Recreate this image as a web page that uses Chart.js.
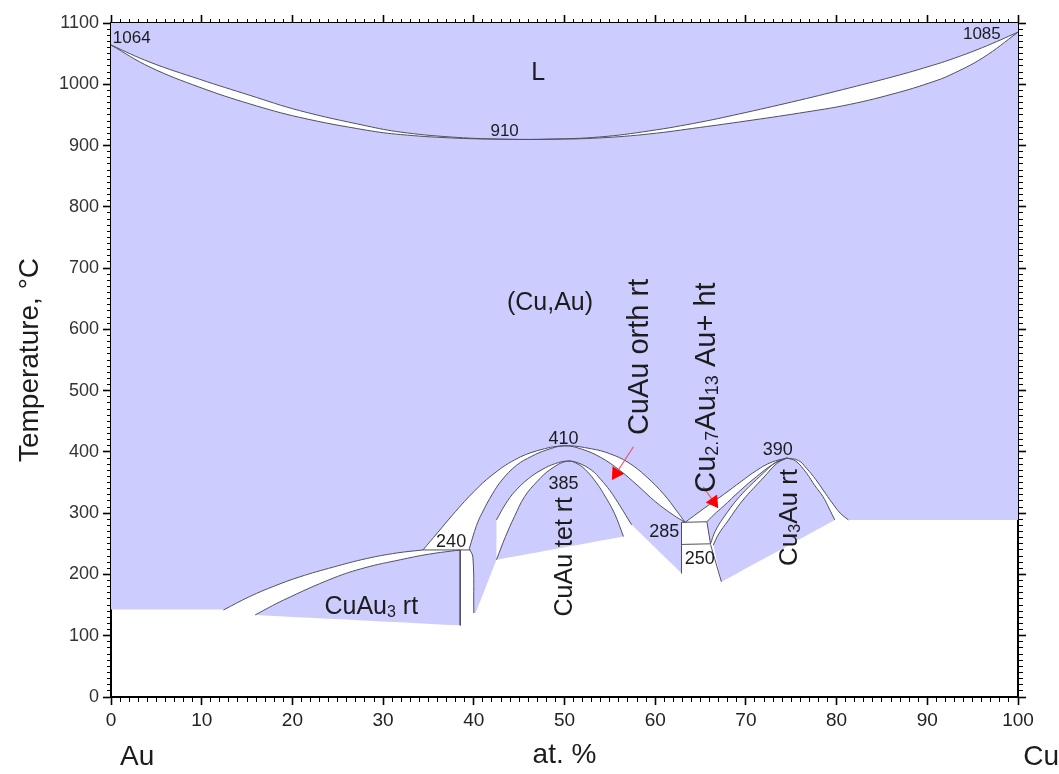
<!DOCTYPE html>
<html><head><meta charset="utf-8">
<script src="https://cdn.jsdelivr.net/npm/chart.js@4"></script>
<style>html,body{margin:0;padding:0;background:#fff}</style>
</head><body>
<canvas id="c" width="1059" height="774" style="display:block;width:1059px;height:774px"></canvas>
<script>
// ---------------- data (x = at.% Cu, y = temperature °C) ----------------
const xTicks = [0,10,20,30,40,50,60,70,80,90,100];
const yTicks = [0,100,200,300,400,500,600,700,800,900,1000,1100];

const liquidus = [[0,1064],[4.3,1036],[9.8,1008],[15.3,982],[20.8,957],[28.2,932],[31.9,922],[37.4,914],[42.9,910.5],[48.4,910.5],[53.9,914],[59.4,924],[64.9,938],[70,954],[75.9,974],[81.4,994],[86.9,1015],[90.6,1031],[92.5,1040],[96.1,1060],[100,1085]];
const solidus  = [[0,1064],[4.3,1028],[9.8,995],[15.3,968],[20.8,946],[28.2,925],[31.9,918],[37.4,912.5],[42.9,910.3],[48.4,910.2],[53.9,912.5],[59.4,919],[64.9,929.5],[70,940],[75.9,953],[81.4,967],[86.9,987],[90.6,1004],[92.5,1015],[96.1,1043],[100,1085]];

const cuau3BandUpper = [[12.4,142],[15.3,164],[18,181],[20.8,196],[24.5,212],[28.2,226],[31.5,235],[34.4,240]];
const cuau3Top = [[15.9,134],[19,158],[24.5,194],[28,211],[31.9,224],[35,233],[38.5,240]];
const cuau3Frame = [[38.5,240],[38.5,117],[15.9,134]];
const line240 = [[34.4,240],[39.6,240]];
const stripRight = [[39.5,242],[39.9,228],[40,137]];

const cuauOuterU = [[34.4,240],[36,268],[38,303],[40,335],[42,362],[44.5,387],[47,402],[50,410],[53,405],[55,397],[57,383],[59,360],[61,330],[62.3,305],[63.3,285]];
const cuauInnerI = [[39.5,242],[40.3,280],[40.9,300],[42,330],[43.1,354],[44.7,378],[46.4,393],[48,403],[50,410],[52,404],[54,391],[56,371],[58,346],[60,319],[62,297],[63.3,285]];
const tetA = [[42.5,289],[43.5,315],[44.5,335],[46,356],[47.5,371],[49,381],[50.3,385],[51.5,382],[53,370],[54,355],[55,337],[56.2,310],[57.4,281]];
const tetB = [[42.5,224],[43.5,262],[44.5,295],[45.6,327],[47,352],[48.5,372],[50.3,385],[51.5,380],[52.5,368],[53.5,350],[54.3,332],[55.5,300],[56.5,262]];
const tetBottom = [[56.5,262],[42.5,224]];
const orthFrame = [[63.3,285],[62.9,285],[62.9,202],[57.4,281]];
const orthWedge = [[42.5,289],[42.5,224],[40.2,137],[40,137]];

const box = [[62.9,285],[65.7,286],[66.1,250],[62.9,249],[62.9,285]];
const boxDown = [[62.9,249],[62.9,202]];
const cu3auLeftEdge = [[66.1,249],[67.3,188]];
const cu3auO1 = [[63.3,285],[65.4,308],[67.5,330],[69.5,352],[71.2,370],[72.8,383],[74.5,390]];
const cu3auO2 = [[65.7,286],[66.5,298],[67.5,311],[69.3,336],[71.2,360],[73,380],[74.5,390]];
const cu3auO3 = [[66.1,250],[66.6,270],[67.5,292],[69.3,327],[71.9,365],[73.3,383],[74.5,390]];
const cu3auO4 = [[66.4,248],[67,266],[68,287],[69.6,320],[72,359],[73.4,381],[74.5,390]];
const cu3auR1 = [[74.5,390],[75.8,386],[76.7,373],[77.7,355],[78.5,338],[79.5,317],[80.4,300],[81.3,289]];
const cu3auR2 = [[74.5,390],[75.5,385],[76.7,365],[77.6,345],[78.5,327],[79.2,307],[79.8,289]];
const cu3auFrame = [[79.8,289],[67.3,188],[66.4,248]];
const cu2Edge = [[66.1,250],[65.7,286]];

const mainLeft = [[0,1100],[0,143],[12.4,143],[12.4,142]];
const mainRight = [[81.3,289],[100,289],[100,1100],[0,1100]];

const arrow1 = [[57.6,408.5],[55.7,365]];
const arrow2 = [[65.3,343],[66.45,318.7]];

const labels = [
  {t:'L', x:47.1, y:1021, s:25},
  {t:'1064', x:0.2, y:1077, s:17, a:'left'},
  {t:'1085', x:98.1, y:1084, s:17, a:'right'},
  {t:'910', x:43.4, y:925, s:17},
  {t:'(Cu,Au)', x:48.4, y:646, s:25},
  {t:'410', x:49.9, y:424, s:18},
  {t:'385', x:49.9, y:350, s:18},
  {t:'240', x:37.5, y:256, s:18},
  {t:'285', x:61, y:271, s:18},
  {t:'250', x:64.9, y:227, s:18},
  {t:'390', x:73.5, y:405, s:18},
  {t:'CuAu_{3} rt', x:28.7, y:150, s:25},
  {t:'CuAu tet rt', x:49.8, y:229, s:25, r:true},
  {t:'CuAu orth rt', x:58.0, y:555, s:29, r:true},
  {t:'Cu_{2.7}Au_{13} Au+ ht', x:65.4, y:505, s:29, r:true},
  {t:'Cu_{3}Au rt', x:74.6, y:293, s:26, r:true}
];
const endLabels = [{t:'Au', x:0}, {t:'Cu', x:100}];

// ---------------- styling ----------------
const LAV = 'rgb(204,204,255)';
const LINE = '#50505f';
const TENSION = 0.4;
const FONT = "'Liberation Sans', Arial, Helvetica, sans-serif";
const pts = a => a.map(p => ({x:p[0], y:p[1]}));
const rev = a => a.slice().reverse();
const segsOf = a => a.slice(1).map((p, i) => [a[i], p]);   // polyline -> straight pieces
// polygon from pieces: piece ends are doubled so corners stay sharp while curves stay smooth
const pieces = (...ps) => { const o = []; for (const p of ps) { o.push(p[0], ...p, p[p.length - 1]); } return o; };
let ord = 1000;
function poly(a, color) {
  return {data: pts(a), showLine: true, fill: 'shape', backgroundColor: color, borderWidth: 0, pointRadius: 0, tension: TENSION, order: ord--};
}
function curve(a, w) {
  return {data: pts(a), showLine: true, fill: false, borderColor: LINE, borderWidth: w || 1, pointRadius: 0, tension: TENSION, order: ord--};
}
function straight(a, w) {
  return {data: pts(a), showLine: true, fill: false, borderColor: LINE, borderWidth: w || 1, pointRadius: 0, tension: 0, order: ord--};
}
function arrow(a, rot) {
  return {data: pts(a), showLine: true, fill: false, borderColor: 'rgba(235,70,90,0.85)', borderWidth: 1.2, tension: 0,
    pointRadius: [0, 8], pointStyle: 'triangle', rotation: rot, pointBackgroundColor: '#ff0000', pointBorderColor: '#ff0000', pointBorderWidth: 0, order: ord--};
}

const datasets = [
  poly(pieces(...segsOf(mainLeft), cuau3BandUpper, cuauOuterU, cu3auO1, cu3auR1, ...segsOf(mainRight)), LAV),
  poly(pieces(liquidus, rev(solidus)), '#ffffff'),
  poly(pieces(cuau3Top, ...segsOf(cuau3Frame)), LAV),
  poly(pieces(rev(stripRight), cuauInnerI, ...segsOf(orthFrame), rev(tetA), ...segsOf(orthWedge)), LAV),
  poly(pieces(tetB, tetBottom), LAV),
  poly(pieces(cu3auO2, rev(cu3auO3), cu2Edge), LAV),
  poly(pieces(cu3auO4, cu3auR2, ...segsOf(cu3auFrame)), LAV),
  curve(liquidus), curve(solidus),
  curve(cuau3BandUpper), curve(cuau3Top), straight(cuau3Frame.slice(0, 2)), straight(line240), curve(stripRight),
  curve(cuauOuterU), curve(cuauInnerI), curve(tetA), curve(tetB),
  straight(box), straight(boxDown), straight(cu3auLeftEdge),
  curve(cu3auO1), curve(cu3auO2), curve(cu3auO3), curve(cu3auO4), curve(cu3auR1), curve(cu3auR2),
  arrow(arrow1, 213), arrow(arrow2, 145)
];

// ---------------- axes helpers ----------------
function gridFor(majorStep, outerStart) {
  return {
    drawOnChartArea: false, drawTicks: true, tickLength: 8, tickColor: '#000',
    tickWidth: c => (Math.abs(c.tick.value % majorStep) < 1e-6 ? 1.6 : 1),
    tickBorderDash: c => (Math.abs(c.tick.value % majorStep) < 1e-6 ? [] : [4, 4]),
    tickBorderDashOffset: c => (outerStart ? 4 : 0)
  };
}
const border = {display: true, color: '#000', width: 2};
const lab = list => v => (list.includes(v) ? String(v) : '');

const textPlugin = {
  id: 'texts',
  afterDatasetsDraw(chart) {
    const {ctx} = chart, sx = chart.scales.x, sy = chart.scales.y;
    ctx.save();
    ctx.fillStyle = '#1c1c1c';
    for (const L of labels) {
      drawRich(ctx, L.t, sx.getPixelForValue(L.x), sy.getPixelForValue(L.y), L.s, L.r, L.a || 'center');
    }
    ctx.font = '28px ' + FONT;
    ctx.textBaseline = 'middle';
    ctx.textAlign = 'left';
    ctx.fillText(endLabels[0].t, sx.getPixelForValue(endLabels[0].x) + 9, 757);
    ctx.textAlign = 'right';
    ctx.fillText(endLabels[1].t, sx.getPixelForValue(endLabels[1].x) + 41, 757);
    ctx.restore();
  }
};
function drawRich(ctx, text, px, py, size, rot, align) {
  const segs = [];
  const re = /_\{([^}]*)\}/g; let last = 0, m;
  while ((m = re.exec(text))) { if (m.index > last) segs.push({s: text.slice(last, m.index), sub: false}); segs.push({s: m[1], sub: true}); last = re.lastIndex; }
  if (last < text.length) segs.push({s: text.slice(last), sub: false});
  const subSize = Math.round(size * 0.62);
  let total = 0;
  for (const g of segs) { ctx.font = (g.sub ? subSize : size) + 'px ' + FONT; g.w = ctx.measureText(g.s).width; total += g.w; }
  ctx.save();
  ctx.translate(px, py);
  if (rot) ctx.rotate(-Math.PI / 2);
  let x = align === 'left' ? 0 : align === 'right' ? -total : -total / 2;
  ctx.textAlign = 'left'; ctx.textBaseline = 'alphabetic';
  const base = size * 0.36;
  for (const g of segs) {
    ctx.font = (g.sub ? subSize : size) + 'px ' + FONT;
    ctx.fillText(g.s, x, g.sub ? base + size * 0.12 : base);
    x += g.w;
  }
  ctx.restore();
}

new Chart(document.getElementById('c'), {
  type: 'scatter',
  data: {datasets},
  options: {
    responsive: false, animation: false, devicePixelRatio: 1,
    layout: {padding: 0},
    plugins: {legend: {display: false}, tooltip: {enabled: false}},
    scales: {
      x: {type: 'linear', position: 'bottom', min: 0, max: 100,
        ticks: {stepSize: 1, autoSkip: false, maxRotation: 0, maxTicksLimit: 500, padding: 4, color: '#222',
          font: {family: "'Liberation Sans Narrow', 'Liberation Sans', Arial, sans-serif", size: 19}, callback: lab(xTicks)},
        grid: gridFor(10, false), border,
        title: {display: true, text: 'at. %', color: '#1c1c1c', font: {family: FONT, size: 28}, padding: {top: 0, bottom: 2}},
        afterFit: s => { s.height = 77; }},
      x2: {type: 'linear', position: 'top', min: 0, max: 100,
        ticks: {stepSize: 1, autoSkip: false, maxTicksLimit: 500, display: false},
        grid: gridFor(10, true), border, afterFit: s => { s.height = 23; }},
      y: {type: 'linear', position: 'left', min: 0, max: 1100,
        ticks: {stepSize: 10, autoSkip: false, maxTicksLimit: 500, padding: 4, color: '#333',
          font: {family: FONT, size: 18}, callback: lab(yTicks)},
        grid: gridFor(100, true), border,
        title: {display: true, text: 'Temperature, °C', color: '#1c1c1c', font: {family: FONT, size: 28}, padding: {top: 13, bottom: 0}},
        afterFit: s => { s.width = 111; }},
      y2: {type: 'linear', position: 'right', min: 0, max: 1100,
        ticks: {stepSize: 10, autoSkip: false, maxTicksLimit: 500, display: false},
        grid: gridFor(100, false), border, afterFit: s => { s.width = 41; }}
    }
  },
  plugins: [textPlugin]
});
</script>
</body></html>
